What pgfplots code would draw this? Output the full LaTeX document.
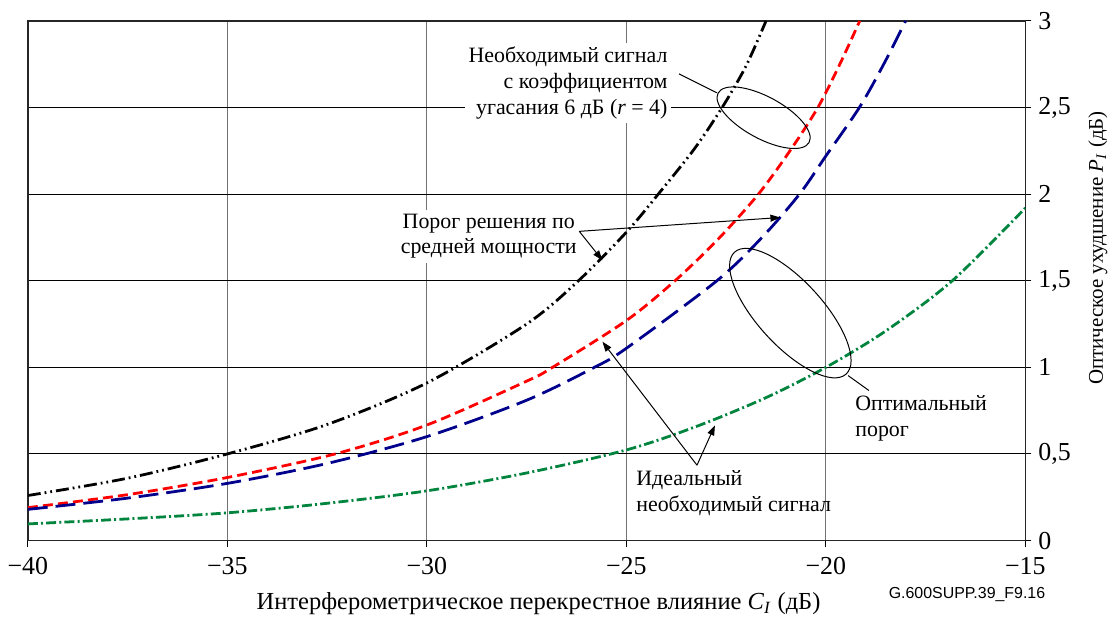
\documentclass[border=0pt]{standalone}
\usepackage{fontspec}
\setmainfont{Liberation Serif}
\newfontfamily\figsans{Liberation Sans}
\usepackage{pgfplots}
\pgfplotsset{compat=1.18}
\usetikzlibrary{arrows.meta,shapes.geometric}

\definecolor{curvered}{RGB}{255,0,0}
\definecolor{curveblue}{RGB}{0,0,140}
\definecolor{curvegreen}{RGB}{0,132,62}

\begin{document}
\begin{tikzpicture}[font=\fontsize{11}{13}\selectfont]
\begin{axis}[
    scale only axis,
    width=501pt, height=261pt,
    xmin=-40, xmax=-15,
    ymin=0, ymax=3,
    xtick={-40,-35,-30,-25,-20,-15},
    xticklabels={−40,−35,−30,−25,−20,−15},
    ytick={0,0.5,1,1.5,2,2.5,3},
    yticklabels={0,{0,5},1,{1,5},2,{2,5},3},
    xtick pos=left, ytick pos=right,
    yticklabel pos=right,
    tick align=outside,
    major tick length=3pt,
    tick style={black, line width=0.5pt},
    tick label style={font=\fontsize{13}{15}\selectfont},
    xticklabel style={yshift=-2pt},
    grid=major,
    x grid style={black!55, line width=0.6pt},
    y grid style={black, line width=0.5pt},
    axis line style={black!85, line width=0.7pt},
    xlabel={Интерферометрическое перекрестное влияние \textit{C}\textsubscript{\textit{I}} (дБ)},
    ylabel={Оптическое ухудшение \textit{P}\textsubscript{\textit{I}} (дБ)},
    xlabel style={font=\fontsize{12.3}{14}\selectfont, yshift=-2pt, xshift=6pt},
    ylabel style={font=\fontsize{10.5}{12}\selectfont, at={(ticklabel cs:0.563)}, yshift=-2pt},
]

% ideal required signal, average threshold
\addplot[black, line width=1.4pt, smooth,
    dash pattern=on 6.5pt off 2pt on 0.9pt off 2pt on 0.9pt off 2pt]
    table {
x y
-40 0.26
-37.5 0.36
-35 0.50
-32.5 0.67
-30 0.91
-27.5 1.25
-26.2 1.50
-25 1.78
-24.2 2.00
-23.3 2.26
-22.6 2.50
-22.0 2.74
-21.5 3.00
};

\addplot[curvered, line width=1.4pt, smooth, dash pattern=on 5pt off 2.6pt]
    table {
x y
-40 0.19
-37.5 0.265
-35 0.364
-32.3 0.50
-30 0.667
-27.5 0.92
-26.85 1.00
-25 1.27
-23.78 1.50
-22.7 1.74
-21.69 2.00
-20.9 2.25
-20.2 2.50
-19.65 2.75
-19.15 3.00
};

\addplot[curveblue, line width=1.4pt, smooth, dash pattern=on 10pt off 4pt]
    table {
x y
-40 0.18
-37.5 0.245
-35 0.33
-32.5 0.445
-30 0.60
-27.5 0.81
-25.8 1.00
-25 1.11
-22.73 1.50
-21.6 1.75
-20.66 2.00
-20 2.22
-19.16 2.50
-18.55 2.75
-18.0 3.00
};

\addplot[curvegreen, line width=1.4pt, smooth,
    dash pattern=on 5pt off 1.6pt on 1pt off 1.6pt]
    table {
x y
-40 0.096
-37.5 0.125
-35 0.16
-32.5 0.215
-30 0.287
-27.5 0.39
-25 0.523
-23.23 0.66
-21.5 0.825
-20 1.00
-18.5 1.21
-16.83 1.50
-15 1.92
};

% annotations
\node[anchor=east, align=right, fill=white, inner sep=2pt]
    at (axis cs:-23.86,2.64)
    {Необходимый сигнал\\с коэффициентом\\угасания 6 дБ (\textit{r} = 4)};
\draw[line width=0.5pt] (axis cs:-23.68,2.694) -- (axis cs:-22.73,2.585);
\node[draw, ellipse, line width=0.5pt, inner sep=0pt,
    minimum width=52pt, minimum height=21pt, rotate=-28.5]
    at (axis cs:-21.56,2.441) {};

\node[align=center, fill=white, inner sep=2pt]
    at (axis cs:-28.45,1.757) {Порог решения по\\средней мощности};
\draw[line width=0.5pt, -{Triangle[length=5pt,width=3.5pt]}]
    (axis cs:-26.18,1.785) -- (axis cs:-25.60,1.618);
\draw[line width=0.5pt, -{Triangle[length=5pt,width=3.5pt]}]
    (axis cs:-26.18,1.785) -- (axis cs:-21.14,1.865);

\node[anchor=west, align=left, inner sep=2pt]
    at (axis cs:-24.86,0.274) {Идеальный\\необходимый сигнал};
\draw[line width=0.5pt, -{Triangle[length=5pt,width=3.5pt]}]
    (axis cs:-23.23,0.435) -- (axis cs:-22.78,0.665);
\draw[line width=0.5pt, -{Triangle[length=5pt,width=3.5pt]}]
    (axis cs:-23.23,0.435) -- (axis cs:-25.60,1.148);

\node[draw, ellipse, line width=0.5pt, inner sep=0pt,
    minimum width=83pt, minimum height=32.6pt, rotate=-47.5]
    at (axis cs:-20.89,1.313) {};
\draw[line width=0.5pt] (axis cs:-19.44,0.952) -- (axis cs:-18.92,0.866);
\node[anchor=west, align=left, inner sep=2pt]
    at (axis cs:-19.37,0.705) {Оптимальный\\порог};
\end{axis}

\node[anchor=east, font=\figsans\fontsize{8}{9}\selectfont]
    at ([shift={(13.5pt,-27pt)}]current axis.south east) {G.600SUPP.39\_F9.16};
\path ([shift={(-14pt,-39pt)}]current axis.south west)
    rectangle ([shift={(42pt,10.5pt)}]current axis.north east);
\end{tikzpicture}
\end{document}
